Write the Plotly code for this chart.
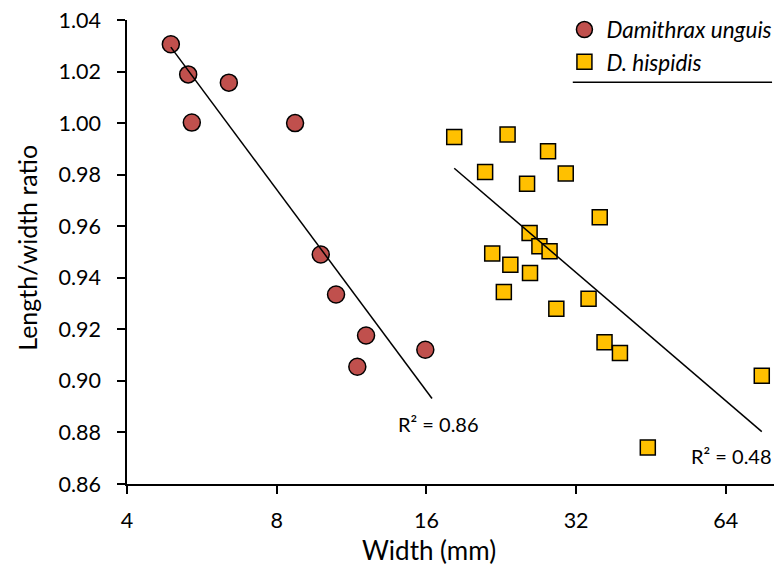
import numpy as np
import plotly.graph_objects as go

# ---- data ----
unguis_width = [4.90, 5.31, 6.41, 5.40, 8.71, 9.81, 10.53, 12.10, 11.62, 15.92]
unguis_ratio = [1.0306, 1.0189, 1.0157, 1.0002, 1.0000, 0.9490, 0.9335, 0.9176, 0.9055, 0.9121]

hispidis_width = [18.2, 23.3, 21.0, 25.5, 28.1, 30.5, 35.7, 25.8, 27.0, 28.3,
                  21.7, 23.6, 25.85, 22.9, 29.2, 33.9, 36.5, 39.2, 75.6, 44.6]
hispidis_ratio = [0.9946, 0.9956, 0.9810, 0.9765, 0.9891, 0.9805, 0.9635, 0.9574, 0.9522, 0.9503,
                  0.9494, 0.9451, 0.9419, 0.9345, 0.9280, 0.9319, 0.9150, 0.9108, 0.9020, 0.8742]

series_names = ["<i>Damithrax unguis</i>", "<i>D. hispidis</i>"]
r2_labels = ["R² = 0.86", "R² = 0.48"]
x_ticks = [4, 8, 16, 32, 64]
y_ticks = [0.86, 0.88, 0.90, 0.92, 0.94, 0.96, 0.98, 1.00, 1.02, 1.04]
forecast_forward = [0.5, 0.0]
x_title = "Width (mm)"
y_title = "Length/width ratio"

FONT = "Lato"
RED = "#C0504D"
YEL = "#FFC000"

def log_fit(xs, ys, fwd):
    xs = np.asarray(xs, float); ys = np.asarray(ys, float)
    a, b = np.polyfit(np.log(xs), ys, 1)
    xl = np.array([xs.min(), xs.max() + fwd])
    return xl, a * np.log(xl) + b

fig = go.Figure()

fig.add_trace(go.Scatter(
    x=unguis_width, y=unguis_ratio, mode="markers", name=series_names[0],
    marker=dict(symbol="circle", size=17, color=RED, line=dict(color="black", width=1.5))))
fig.add_trace(go.Scatter(
    x=hispidis_width, y=hispidis_ratio, mode="markers", name=series_names[1],
    marker=dict(symbol="square", size=15, color=YEL, line=dict(color="black", width=1.5))))

for xs, ys, fwd in [(unguis_width, unguis_ratio, forecast_forward[0]),
                    (hispidis_width, hispidis_ratio, forecast_forward[1])]:
    xl, yl = log_fit(xs, ys, fwd)
    fig.add_trace(go.Scatter(x=xl, y=yl, mode="lines", showlegend=False,
                             line=dict(color="black", width=1.5), hoverinfo="skip"))

fig.add_annotation(x=np.log10(16.96), y=0.8834, text=r2_labels[0], showarrow=False,
                   font=dict(family=FONT, size=20, color="black"))
fig.add_annotation(x=np.log10(65.7), y=0.8707, text=r2_labels[1], showarrow=False,
                   font=dict(family=FONT, size=20, color="black"))

# axis titles
fig.add_annotation(xref="paper", yref="paper", x=0.466, y=-0.178, text=x_title, showarrow=False,
                   xanchor="center", yanchor="bottom", borderpad=0,
                   font=dict(family=FONT, size=26, color="black"))
fig.add_annotation(xref="paper", yref="paper", x=-0.1546, y=0.509, text=y_title, showarrow=False,
                   textangle=-90, xanchor="center", yanchor="middle",
                   font=dict(family=FONT, size=25, color="black"))

fig.add_shape(type="line", xref="paper", yref="paper", x0=0.689, x1=0.997, y0=0.866, y1=0.866,
              line=dict(color="black", width=1.5))

fig.update_layout(
    width=776, height=567,
    margin=dict(l=127, r=2, t=20, b=83, autoexpand=False),
    plot_bgcolor="white", paper_bgcolor="white",
    font=dict(family=FONT, size=20, color="black"),
    showlegend=True,
    legend=dict(x=0.673, y=1.025, xanchor="left", yanchor="top", bgcolor="rgba(0,0,0,0)",
                font=dict(family=FONT, size=22.5, color="black"), itemwidth=34, tracegroupgap=0),
    xaxis=dict(type="log", range=[np.log10(4), np.log10(80)], tickvals=x_ticks,
               ticktext=[str(v) for v in x_ticks], showgrid=False, zeroline=False,
               showline=True, linecolor="black", linewidth=1.5,
               ticks="outside", ticklen=8, tickwidth=1.5, tickcolor="black",
               tickfont=dict(family=FONT, size=21.5), ticklabelstandoff=8),
    yaxis=dict(range=[0.86, 1.04], tickvals=y_ticks, tickformat=".2f", showgrid=False,
               zeroline=False, showline=True, linecolor="black", linewidth=1.5,
               ticks="outside", ticklen=8, tickwidth=1.5, tickcolor="black",
               tickfont=dict(family=FONT, size=21.5), ticklabelstandoff=12),
)

fig.write_html("out.html", config={"displayModeBar": False},
               post_script="document.body.style.margin='0';")
